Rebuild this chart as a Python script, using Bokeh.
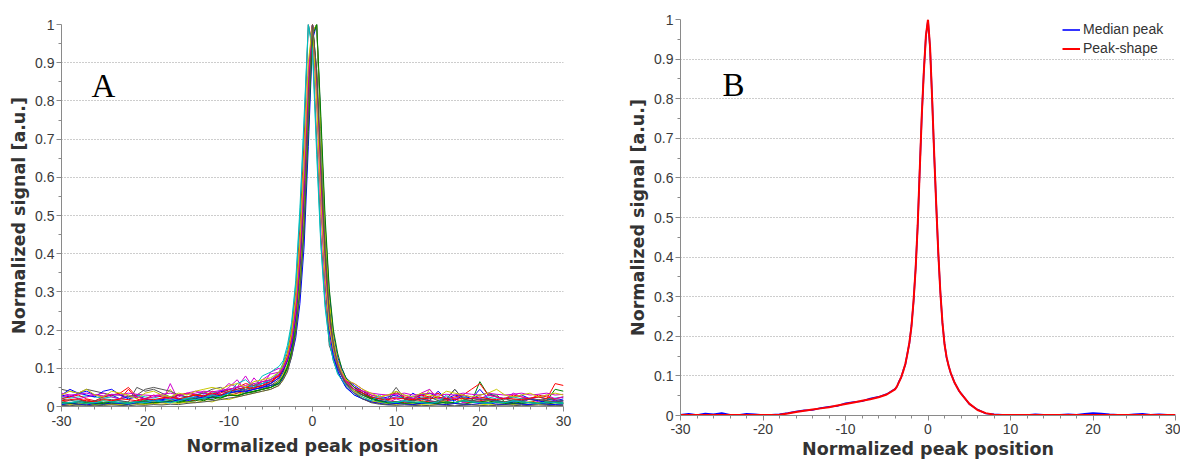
from bokeh.plotting import figure
from bokeh.layouts import row, column
from bokeh.models import Range1d, FixedTicker, CustomJSTickFormatter, Label, Legend, LegendItem
from bokeh.embed import file_html
from bokeh.resources import INLINE

# ---------------- data ----------------
XA = [-30, -29, -28, -27, -26, -25, -24, -23, -22, -21, -20, -19, -18, -17, -16, -15, -14, -13, -12, -11, -10, -9, -8, -7, -6, -5,
      -4, -3.5, -3, -2.5, -2, -1.5, -1, -0.5, 0, 0.5, 1, 1.5, 2, 2.5, 3, 3.5, 4,
      5, 6, 7, 8, 9, 10, 11, 12, 13, 14, 15, 16, 17, 18, 19, 20, 21, 22, 23, 24, 25, 26, 27, 28, 29, 30]

a01 = [.03, .025, .035, .04, .03, .025, .03, .02, .025, .03, .02, .015, .02, .025, .03, .025, .03, .035, .03, .04, .045, .04, .05, .055, .06, .065,
       .08, .1, .125, .17, .25, .38, .57, .84, 1.0, .86, .6, .38, .22, .15, .11, .085, .065,
       .045, .035, .025, .02, .025, .03, .02, .025, .03, .035, .025, .02, .03, .025, .02, .03, .035, .025, .02, .025, .03, .02, .025, .02, .015, .02]
a02 = [.005, .008, .004, .006, .01, .005, .007, .004, .006, .008, .01, .007, .012, .01, .015, .012, .018, .02, .025, .022, .03, .028, .035, .04, .045, .05,
       .06, .075, .1, .14, .2, .32, .5, .78, .98, 1.0, .72, .45, .27, .17, .12, .09, .07,
       .05, .035, .02, .015, .01, .008, .012, .01, .007, .01, .012, .008, .01, .015, .012, .065, .03, .03, .012, .01, .008, .012, .01, .015, .045, .04]
a03 = [.015, .01, .012, .018, .01, .008, .015, .02, .045, .02, .012, .015, .01, .012, .018, .02, .015, .022, .025, .03, .028, .035, .04, .05, .055, .06,
       .085, .11, .14, .2, .3, .47, .7, 1.0, .95, .7, .45, .28, .18, .12, .09, .07, .055,
       .035, .02, .012, .01, .015, .012, .01, .02, .015, .012, .01, .015, .02, .012, .01, .015, .02, .012, .01, .015, .012, .01, .018, .015, .012, .01]
a04 = [.025, .022, .025, .028, .025, .022, .025, .02, .025, .03, .025, .022, .028, .025, .02, .025, .03, .028, .035, .04, .038, .045, .05, .055, .06, .07,
       .085, .105, .13, .18, .26, .4, .6, .86, 1.0, .82, .56, .35, .21, .14, .1, .08, .06,
       .04, .03, .025, .022, .02, .025, .022, .02, .025, .022, .02, .018, .022, .025, .02, .022, .025, .02, .022, .025, .02, .022, .025, .02, .022, .025]
a05 = [.01, .005, .012, .008, .015, .01, .006, .012, .01, .015, .02, .012, .01, .06, .015, .02, .025, .018, .03, .035, .05, .07, .04, .075, .05, .09,
       .1, .09, .13, .18, .27, .42, .63, .88, 1.0, .8, .52, .32, .2, .15, .1, .08, .05,
       .035, .03, .02, .015, .01, .02, .012, .01, .03, .015, .01, .012, .02, .01, .015, .012, .018, .01, .012, .015, .01, .02, .012, .01, .015, .01]
a06 = [.005, .01, .008, .012, .01, .015, .01, .008, .012, .01, .015, .012, .02, .045, .015, .02, .018, .04, .03, .025, .035, .03, .04, .045, .05, .055,
       .065, .085, .11, .15, .22, .35, .54, .8, 1.0, .87, .62, .4, .24, .16, .12, .09, .07,
       .04, .03, .02, .015, .012, .01, .015, .012, .01, .045, .015, .012, .01, .02, .012, .01, .015, .01, .012, .015, .01, .012, .01, .008, .01, .012]
a07 = [.045, .04, .035, .045, .04, .035, .03, .03, .025, .03, .045, .05, .045, .04, .03, .025, .03, .035, .045, .05, .04, .035, .05, .06, .045, .055,
       .07, .09, .12, .16, .23, .36, .55, .82, 1.0, .84, .58, .36, .22, .15, .11, .08, .06,
       .04, .03, .02, .015, .02, .05, .02, .015, .02, .025, .015, .02, .045, .02, .015, .02, .018, .015, .02, .015, .02, .018, .015, .02, .018, .015]
a08 = [.03, .045, .035, .03, .025, .04, .045, .03, .02, .025, .02, .015, .018, .02, .015, .02, .025, .03, .025, .04, .035, .05, .04, .045, .05, .055,
       .06, .075, .095, .13, .18, .27, .42, .68, .96, 1.0, .74, .48, .3, .19, .13, .1, .075,
       .055, .04, .025, .015, .012, .01, .015, .035, .02, .015, .04, .02, .015, .03, .02, .045, .02, .015, .01, .012, .015, .02, .015, .01, .012, .015]
a09 = [.008, .01, .006, .008, .012, .01, .008, .006, .01, .012, .008, .01, .012, .015, .01, .012, .015, .02, .018, .025, .03, .028, .035, .038, .045, .05,
       .065, .08, .105, .145, .21, .33, .52, .79, 1.0, .88, .63, .4, .24, .16, .115, .085, .065,
       .045, .03, .02, .012, .008, .01, .008, .006, .01, .008, .012, .01, .008, .006, .01, .012, .015, .01, .008, .006, .008, .01, .008, .006, .01, .008]
a10 = [.02, .025, .03, .02, .015, .025, .03, .035, .05, .025, .02, .03, .025, .02, .03, .035, .03, .025, .04, .035, .045, .05, .06, .055, .065, .07,
       .08, .1, .13, .18, .26, .4, .6, .85, 1.0, .83, .57, .36, .22, .15, .11, .085, .07,
       .05, .04, .03, .025, .03, .035, .025, .02, .03, .025, .035, .02, .025, .03, .045, .06, .03, .025, .02, .03, .025, .02, .03, .025, .02, .025]
a11 = [.012, .01, .015, .012, .01, .008, .012, .015, .01, .012, .015, .018, .015, .02, .018, .022, .025, .02, .028, .03, .035, .04, .045, .05, .06, .07,
       .09, .115, .15, .21, .32, .5, .74, 1.0, .94, .68, .43, .27, .17, .12, .09, .07, .05,
       .03, .02, .015, .012, .01, .012, .015, .01, .012, .01, .008, .012, .01, .015, .012, .01, .008, .012, .01, .015, .012, .01, .008, .01, .012, .01]
a12 = [.025, .03, .02, .025, .03, .035, .025, .02, .03, .025, .02, .025, .03, .02, .025, .035, .04, .035, .03, .04, .06, .05, .08, .045, .07, .085,
       .09, .1, .12, .17, .25, .38, .58, .85, 1.0, .82, .55, .34, .22, .16, .12, .09, .065,
       .06, .045, .03, .025, .02, .025, .03, .02, .035, .045, .02, .025, .02, .03, .025, .02, .03, .025, .02, .035, .025, .02, .025, .03, .02, .025]
a13 = [.003, .005, .004, .006, .005, .004, .006, .005, .008, .006, .005, .008, .006, .01, .008, .012, .01, .015, .012, .02, .018, .025, .03, .035, .04, .045,
       .055, .07, .095, .135, .2, .32, .5, .77, .98, 1.0, .73, .47, .28, .18, .12, .085, .065,
       .04, .025, .015, .01, .006, .005, .008, .006, .005, .004, .006, .005, .008, .006, .005, .004, .006, .005, .004, .006, .005, .004, .006, .005, .004, .005]
a14 = [.02, .015, .018, .012, .015, .02, .018, .015, .012, .05, .04, .045, .035, .025, .02, .018, .022, .025, .03, .028, .035, .04, .045, .05, .055, .06,
       .075, .095, .12, .165, .24, .37, .56, .83, 1.0, .85, .6, .37, .16, .13, .1, .08, .06,
       .045, .03, .025, .02, .015, .04, .018, .015, .02, .015, .012, .018, .045, .02, .015, .018, .02, .015, .012, .018, .015, .02, .018, .015, .012, .015]
a15 = [.005, .008, .006, .004, .008, .006, .01, .008, .006, .01, .012, .01, .015, .012, .018, .015, .02, .025, .022, .03, .035, .04, .038, .045, .05, .06,
       .075, .095, .12, .16, .24, .38, .58, .86, 1.0, .83, .56, .34, .2, .13, .095, .07, .05,
       .03, .02, .012, .008, .005, .008, .006, .005, .008, .01, .006, .005, .008, .006, .005, .008, .01, .006, .005, .008, .006, .005, .008, .006, .005, .004]
a16 = [.01, .008, .012, .01, .006, .008, .012, .01, .008, .012, .015, .01, .012, .015, .012, .018, .02, .015, .025, .022, .03, .028, .035, .04, .045, .05,
       .06, .08, .1, .14, .2, .3, .46, .72, .97, 1.0, .76, .5, .31, .2, .14, .1, .075,
       .05, .035, .022, .015, .01, .012, .008, .01, .012, .01, .008, .012, .01, .015, .012, .01, .008, .012, .01, .008, .012, .01, .008, .012, .01, .008]
a17 = [.015, .018, .02, .015, .012, .018, .015, .02, .018, .015, .02, .018, .022, .025, .02, .025, .03, .028, .035, .03, .04, .045, .05, .048, .055, .065,
       .08, .1, .125, .175, .25, .39, .59, .85, 1.0, .84, .58, .37, .23, .155, .11, .085, .065,
       .045, .035, .025, .02, .018, .022, .02, .018, .022, .02, .025, .02, .018, .022, .02, .025, .02, .018, .022, .02, .018, .022, .025, .02, .06, .055]
a18 = [.008, .01, .012, .008, .01, .015, .012, .01, .008, .012, .01, .015, .012, .01, .015, .02, .018, .022, .03, .025, .035, .06, .07, .05, .08, .09,
       .105, .12, .16, .22, .33, .52, .76, 1.0, .93, .66, .42, .26, .17, .12, .085, .07, .055,
       .035, .025, .015, .03, .012, .01, .015, .012, .01, .008, .012, .03, .01, .015, .012, .01, .008, .012, .01, .015, .012, .01, .008, .012, .01, .008]
a19 = [.035, .03, .032, .035, .03, .028, .032, .03, .035, .032, .03, .028, .032, .035, .03, .032, .035, .04, .038, .042, .045, .05, .055, .06, .065, .07,
       .085, .1, .125, .17, .25, .39, .59, .86, 1.0, .83, .57, .36, .22, .15, .11, .085, .065,
       .045, .04, .035, .032, .03, .032, .035, .03, .032, .035, .03, .032, .03, .035, .032, .03, .035, .032, .03, .032, .035, .03, .032, .035, .03, .032]
a20 = [.03, .04, .035, .045, .03, .025, .04, .035, .03, .02, .035, .04, .03, .025, .035, .03, .04, .045, .05, .045, .055, .06, .05, .065, .07, .075,
       .09, .11, .135, .19, .28, .43, .64, .9, 1.0, .8, .54, .34, .21, .15, .11, .09, .07,
       .06, .045, .035, .025, .03, .04, .03, .025, .035, .03, .025, .04, .035, .03, .025, .03, .035, .045, .03, .025, .03, .035, .025, .03, .035, .03]
a21 = [.003, .002, .004, .003, .002, .003, .004, .003, .002, .004, .003, .005, .004, .006, .005, .008, .01, .012, .015, .018, .022, .025, .03, .035, .04, .045,
       .055, .07, .09, .13, .19, .3, .48, .76, 1.0, .88, .64, .41, .25, .16, .11, .08, .06,
       .035, .02, .01, .006, .004, .003, .004, .003, .002, .003, .004, .003, .002, .003, .004, .003, .002, .003, .004, .003, .002, .003, .004, .003, .002, .003]

A_CURVES = [a01, a02, a03, a04, a05, a06, a07, a08, a09, a10, a11, a12, a13, a14, a15, a16, a17, a18, a19, a20, a21]
A_COLORS = ["#0000ff", "#008000", "#ff0000", "#00bfbf", "#d000d0", "#c8c800", "#555555"]

XB = [-30, -29, -28, -27, -26, -25, -24, -23, -22, -21, -20, -19, -18, -17, -16, -15, -14, -13, -12, -11, -10, -9, -8, -7, -6, -5,
      -4, -3.75, -3.5, -3.25, -3, -2.75, -2.5, -2.25, -2, -1.75, -1.5, -1.25, -1, -0.75, -0.5, -0.25, 0,
      0.25, 0.5, 0.75, 1, 1.25, 1.5, 1.75, 2, 2.25, 2.5, 2.75, 3, 3.25, 3.5, 3.75, 4,
      5, 6, 7, 8, 9, 10, 11, 12, 13, 14, 15, 16, 17, 18, 19, 20, 21, 22, 23, 24, 25, 26, 27, 28, 29, 30]

median_peak = [.002, .004, .001, .005, .003, .006, .002, .001, .004, .003, .001, .002, .003, .006, .01, .013, .014, .019, .022, .024, .031, .034, .036, .043, .047, .054,
               .067, .073, .087, .096, .114, .128, .157, .183, .228, .288, .372, .478, .622, .758, .872, .958, .998,
               .928, .802, .658, .532, .408, .312, .233, .182, .146, .126, .107, .095, .081, .073, .062, .056,
               .029, .015, .005, .003, .002, .001, .002, .001, .003, .002, .001, .002, .003, .002, .004, .006, .005, .003, .002, .001, .003, .004, .002, .003, .002, .001]
peak_shape = [.001, .001, .001, .001, .001, .001, .001, .001, .001, .001, .001, .001, .002, .005, .009, .012, .015, .018, .021, .025, .029, .033, .037, .041, .046, .053,
              .066, .074, .085, .097, .112, .13, .155, .185, .225, .29, .37, .48, .62, .76, .87, .96, 1.0,
              .93, .8, .66, .53, .41, .31, .235, .18, .148, .125, .108, .094, .082, .072, .063, .055,
              .03, .014, .006, .002, .001, .001, .001, .001, .001, .001, .001, .001, .001, .001, .001, .001, .001, .001, .001, .001, .001, .001, .001, .001, .001, .001]

X_TICKS = [-30, -20, -10, 0, 10, 20, 30]
X_MINOR = [-28, -26, -24, -22, -18, -16, -14, -12, -8, -6, -4, -2, 2, 4, 6, 8, 12, 14, 16, 18, 22, 24, 26, 28]
Y_TICKS = [0, 0.1, 0.2, 0.3, 0.4, 0.5, 0.6, 0.7, 0.8, 0.9, 1.0]
Y_MINOR = [0.05, 0.15, 0.25, 0.35, 0.45, 0.55, 0.65, 0.75, 0.85, 0.95]

# ---------------- styling ----------------
AXIS_GREY = "#8a8a8a"
TXT = "#333333"


def style(p, xl_standoff, xt_standoff, yt_standoff):
    p.outline_line_color = None
    p.xgrid.visible = False
    p.ygrid.ticker = FixedTicker(ticks=Y_TICKS)
    p.ygrid.grid_line_color = "#9a9a9a"
    p.ygrid.grid_line_dash = "1 2"
    p.ygrid.grid_line_width = 1
    p.xaxis.ticker = FixedTicker(ticks=X_TICKS, minor_ticks=X_MINOR)
    p.yaxis.ticker = FixedTicker(ticks=Y_TICKS, minor_ticks=Y_MINOR)
    p.yaxis.formatter = CustomJSTickFormatter(code="return tick.toFixed(1).replace(/\\.0$/, '');")
    p.xaxis.formatter = CustomJSTickFormatter(code="return String(Math.round(tick));")
    for ax in (p.xaxis, p.yaxis):
        ax.axis_line_color = AXIS_GREY
        ax.major_tick_line_color = AXIS_GREY
        ax.minor_tick_line_color = AXIS_GREY
        ax.major_tick_out = 5
        ax.major_tick_in = 0
        ax.minor_tick_out = 3
        ax.minor_tick_in = 0
        ax.major_label_text_font = "Liberation Sans"
        ax.major_label_text_font_size = "14px"
        ax.major_label_text_color = "#3a3a3a"
        ax.axis_label_text_color = TXT
        ax.axis_label_text_font = "DejaVu Sans"
        ax.axis_label_text_font_style = "bold"
        ax.axis_label_text_font_size = "17.5px"
    p.xaxis.axis_label = "Normalized peak position"
    p.xaxis.axis_label_standoff = xt_standoff
    p.xaxis.major_label_standoff = xl_standoff
    p.yaxis.axis_label = "Normalized signal [a.u.]"
    p.yaxis.axis_label_standoff = yt_standoff
    p.yaxis.major_label_standoff = 2


# ---------------- panel A ----------------
pA = figure(width=600, height=464, x_range=Range1d(-30, 30), y_range=Range1d(0, 1),
            title=None, output_backend="svg", toolbar_location=None,
            min_border_left=61, min_border_right=37, min_border_top=24, min_border_bottom=58)
style(pA, 4, 7, 3)
for i, ys in enumerate(A_CURVES):
    pA.line(XA, ys, line_color=A_COLORS[i % len(A_COLORS)], line_width=1)
pA.add_layout(Label(x=-26.4, y=0.793, text="A", text_font="Liberation Serif",
                    text_font_size="33px", text_color="#000000"))

# ---------------- panel B ----------------
pB = figure(width=580, height=464, x_range=Range1d(-30, 30), y_range=Range1d(0, 1),
            title=None, output_backend="svg", toolbar_location=None,
            min_border_left=80, min_border_right=5, min_border_top=19, min_border_bottom=49)
style(pB, 3, 2, 3)
r_med = pB.line(XB, median_peak, line_color="#0000ff", line_width=1.6)
r_shape = pB.line(XB, peak_shape, line_color="#ff0000", line_width=2)
pB.add_layout(Label(x=-24.9, y=0.788, text="B", text_font="Liberation Serif",
                    text_font_size="33px", text_color="#000000"))
leg = Legend(items=[LegendItem(label="Median peak", renderers=[r_med]),
                    LegendItem(label="Peak-shape", renderers=[r_shape])],
             location="top_right")
leg.border_line_color = None
leg.background_fill_color = "white"
leg.background_fill_alpha = 1.0
leg.label_text_font = "Liberation Sans"
leg.label_text_font_size = "14px"
leg.label_text_color = TXT
leg.glyph_width = 18
leg.glyph_height = 13
leg.label_height = 13
leg.label_width = 90
leg.label_standoff = 3
leg.spacing = 3
leg.padding = 6
leg.margin = 2
pB.add_layout(leg)

layout = row(column(pA), column(pB))
open("out.html", "w").write(file_html(layout, INLINE))
